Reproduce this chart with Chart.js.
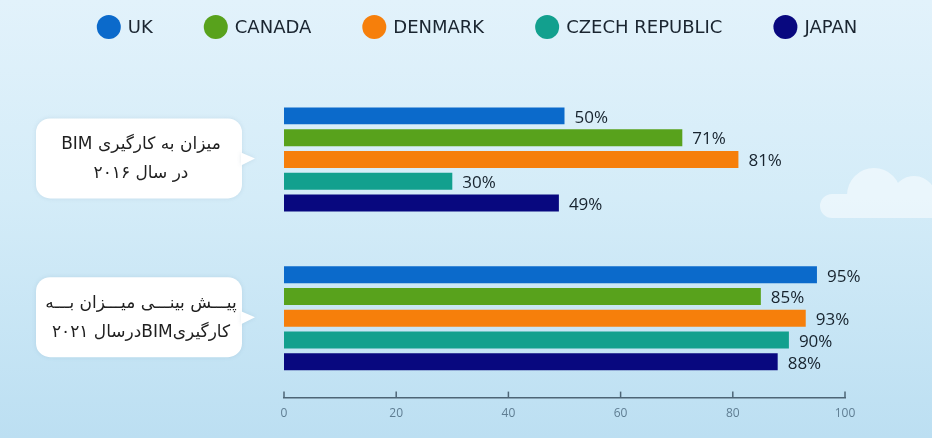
<!DOCTYPE html>
<html>
<head>
<meta charset="utf-8">
<script src="https://cdn.jsdelivr.net/npm/chart.js@4.4.1/dist/chart.umd.min.js"></script>
<style>
  html, body { margin: 0; padding: 0; }
  body {
    width: 932px; height: 438px; overflow: hidden;
    background: linear-gradient(180deg, #e2f2fb 0%, #d4ecf8 45%, #bcdff2 100%);
  }
  #wrap { position: relative; width: 932px; height: 438px; }
</style>
</head>
<body>
<div id="wrap"><canvas id="bimChart"></canvas></div>
<script>
// categories (shown in the speech bubbles)
const categories = [
  ['میزان به کارگیری BIM', 'در سال ۲۰۱۶'],
  ['پیـــش بینـــی میـــزان بـــه', 'کارگیریBIMدرسال ۲۰۲۱']
];
const countries = ['UK', 'CANADA', 'DENMARK', 'CZECH REPUBLIC', 'JAPAN'];

// values per country: [2016, 2021 forecast]
const ukValues = [50, 95];
const canadaValues = [71, 85];
const denmarkValues = [81, 93];
const czechValues = [30, 90];
const japanValues = [49, 88];

const countryColors = ['#0b6acb', '#58a21c', '#f67f0b', '#12a08e', '#08087f'];
const xTicks = [0, 20, 40, 60, 80, 100];

const seriesValues = [ukValues, canadaValues, denmarkValues, czechValues, japanValues];
const AXIS_COLOR = '#4d6576';

// soft cloud on the right, behind everything
const cloudPlugin = {
  id: 'cloud',
  beforeDraw(chart) {
    const ctx = chart.ctx;
    ctx.save();
    ctx.fillStyle = 'rgba(255,255,255,0.5)';
    ctx.beginPath();
    ctx.arc(874, 195, 27, Math.PI, 0);
    ctx.arc(832, 206, 12, Math.PI * 0.5, Math.PI * 1.5);
    ctx.lineTo(874, 194);
    ctx.arc(914, 198, 22, Math.PI * 1.2, Math.PI * 2);
    ctx.lineTo(932, 218);
    ctx.lineTo(832, 218);
    ctx.closePath();
    ctx.fill();
    ctx.restore();
  }
};

// legend across the top
const topLegend = {
  id: 'topLegend',
  afterDraw(chart) {
    const ctx = chart.ctx;
    ctx.save();
    ctx.font = '18px "DejaVu Sans"';
    const items = chart.data.datasets.map(ds => ({
      text: ds.label, color: ds.backgroundColor, w: ctx.measureText(ds.label).width
    }));
    const r = 12, gapText = 7, gapItem = 51;
    const total = items.reduce((s, it) => s + 2 * r + gapText + it.w, 0) + gapItem * (items.length - 1);
    let x = 477 - total / 2;
    const y = 27;
    ctx.textBaseline = 'middle';
    ctx.textAlign = 'left';
    items.forEach(it => {
      ctx.fillStyle = it.color;
      ctx.beginPath();
      ctx.arc(x + r, y, r, 0, Math.PI * 2);
      ctx.fill();
      ctx.fillStyle = '#1a2530';
      ctx.fillText(it.text, x + 2 * r + gapText, y + 1);
      x += 2 * r + gapText + it.w + gapItem;
    });
    ctx.restore();
  }
};

// speech bubbles holding the category labels
function roundRect(ctx, x, y, w, h, r) {
  ctx.moveTo(x + r, y);
  ctx.arcTo(x + w, y, x + w, y + h, r);
  ctx.arcTo(x + w, y + h, x, y + h, r);
  ctx.arcTo(x, y + h, x, y, r);
  ctx.arcTo(x, y, x + w, y, r);
  ctx.closePath();
}

const bubblePlugin = {
  id: 'bubbles',
  afterDraw(chart) {
    const ctx = chart.ctx;
    const yScale = chart.scales.y;
    ctx.save();
    chart.data.labels.forEach((lines, i) => {
      const cy = yScale.getPixelForValue(i);
      const left = 36, right = 242, h = 80;
      const top = cy - h / 2 - 1;
      ctx.fillStyle = '#ffffff';
      ctx.shadowColor = 'rgba(80,120,150,0.15)';
      ctx.shadowBlur = 4;
      ctx.beginPath();
      roundRect(ctx, left, top, right - left, h, 14);
      ctx.fill();
      ctx.beginPath();
      ctx.moveTo(right - 1, cy - 7);
      ctx.lineTo(right + 13, cy - 1);
      ctx.lineTo(right - 1, cy + 6);
      ctx.closePath();
      ctx.fill();
      ctx.shadowBlur = 0;
      ctx.fillStyle = '#1f1f1f';
      ctx.font = '17px "DejaVu Sans"';
      ctx.direction = 'rtl';
      ctx.textAlign = 'center';
      ctx.textBaseline = 'middle';
      ctx.fillText(lines[0], (left + right) / 2 + 2, cy - 15);
      ctx.fillText(lines[1], (left + right) / 2 + 2, cy + 14);
    });
    ctx.restore();
  }
};

// value labels at bar ends + small upward tick marks on the x axis
const valueLabels = {
  id: 'valueLabels',
  afterDatasetsDraw(chart) {
    const ctx = chart.ctx;
    ctx.save();
    ctx.font = '17px "Open Sans"';
    ctx.fillStyle = '#17232e';
    ctx.textAlign = 'left';
    ctx.textBaseline = 'middle';
    chart.data.datasets.forEach((ds, di) => {
      chart.getDatasetMeta(di).data.forEach((bar, i) => {
        ctx.fillText(ds.data[i] + '%', bar.x + 10, bar.y + 2);
      });
    });
    const xs = chart.scales.x;
    ctx.strokeStyle = AXIS_COLOR;
    ctx.lineWidth = 1.5;
    xs.ticks.forEach((t, i) => {
      const px = xs.getPixelForTick(i);
      ctx.beginPath();
      ctx.moveTo(px, xs.top);
      ctx.lineTo(px, xs.top - 6);
      ctx.stroke();
    });
    ctx.restore();
  }
};

new Chart(document.getElementById('bimChart'), {
  type: 'bar',
  data: {
    labels: categories,
    datasets: countries.map((name, i) => ({
      label: name,
      data: seriesValues[i],
      backgroundColor: countryColors[i],
      borderWidth: 0,
      categoryPercentage: 0.685,
      barPercentage: 0.78
    }))
  },
  options: {
    indexAxis: 'y',
    responsive: true,
    maintainAspectRatio: false,
    animation: false,
    layout: { padding: { left: 109, right: 87, top: 80, bottom: 8 } },
    plugins: {
      legend: { display: false },
      tooltip: { enabled: false }
    },
    scales: {
      x: {
        min: 0,
        max: 100,
        afterBuildTicks: scale => { scale.ticks = xTicks.map(v => ({ value: v })); },
        grid: { display: false, drawTicks: false },
        border: { display: true, color: AXIS_COLOR, width: 1.5 },
        ticks: { color: '#5f7d92', font: { family: 'Open Sans', size: 12 }, padding: 9 }
      },
      y: {
        afterFit: scale => { scale.width = 175; },
        grid: { display: false },
        border: { display: false },
        ticks: { display: false }
      }
    }
  },
  plugins: [cloudPlugin, valueLabels, bubblePlugin, topLegend]
});
</script>
</body>
</html>
